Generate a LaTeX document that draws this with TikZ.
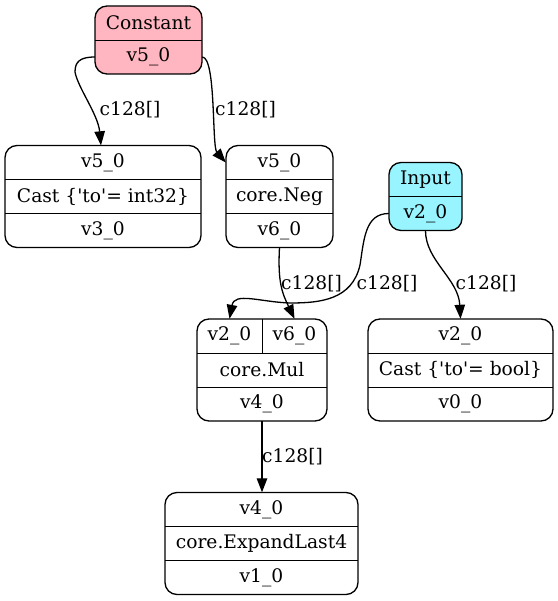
\documentclass[tikz,border=0pt]{standalone}
\usepackage{fontspec}
\setmainfont{DejaVu Serif}
\usepackage{tikz}
\usetikzlibrary{arrows.meta}
\definecolor{constpink}{HTML}{FFB6C1}
\definecolor{inputcyan}{HTML}{98F5FF}

\begin{document}
\begin{tikzpicture}[x=1bp, y=-1bp,
    every node/.style={font=\fontsize{18.67bp}{22bp}\selectfont},
    rec/.style={draw, line width=1.3bp, rounded corners=12bp, inner sep=0pt},
    cell/.style={inner sep=0pt, minimum height=34bp},
    sep/.style={line width=1.3bp},
    edge/.style={line width=1.3bp, -{Triangle[length=14bp,width=10.5bp]}},
    lbl/.style={anchor=west, inner sep=0pt}]
    \useasboundingbox (0,0) rectangle (558,601);

    \node[rec, fill=constpink, minimum width=107bp, minimum height=68bp] (constbox) at (148.5,40) {};
    \node[cell, minimum width=107bp] (cname) at (148.5,23) {Constant};
    \node[cell, minimum width=107bp] (cv5) at (148.5,57) {v5\_0};
    \draw[sep] (cname.south west) -- (cname.south east);

    \node[rec, minimum width=196bp, minimum height=102bp] (castabox) at (103,196.5) {};
    \node[cell, minimum width=196bp] (ca1) at (103,162.5) {v5\_0};
    \node[cell, minimum width=196bp] (ca2) at (103,196.5) {Cast \{\textquotesingle to\textquotesingle= int32\}};
    \node[cell, minimum width=196bp] (ca3) at (103,230.5) {v3\_0};
    \draw[sep] (ca1.south west) -- (ca1.south east);
    \draw[sep] (ca2.south west) -- (ca2.south east);

    \node[rec, minimum width=107bp, minimum height=102bp] (negbox) at (279.5,196.5) {};
    \node[cell, minimum width=107bp] (nv5) at (279.5,162.5) {v5\_0};
    \node[cell, minimum width=107bp] (nop) at (279.5,196.5) {core.Neg};
    \node[cell, minimum width=107bp] (nv6) at (279.5,230.5) {v6\_0};
    \draw[sep] (nv5.south west) -- (nv5.south east);
    \draw[sep] (nop.south west) -- (nop.south east);

    \node[rec, fill=inputcyan, minimum width=73bp, minimum height=68bp] (inbox) at (425.5,196.5) {};
    \node[cell, minimum width=73bp] (iname) at (425.5,179.5) {Input};
    \node[cell, minimum width=73bp] (in2) at (425.5,213.5) {v2\_0};
    \draw[sep] (iname.south west) -- (iname.south east);

    \node[rec, minimum width=130bp, minimum height=102bp] (mulbox) at (262,370) {};
    \node[cell, minimum width=65bp] (mv2) at (229.5,336) {v2\_0};
    \node[cell, minimum width=65bp] (mv6) at (294.5,336) {v6\_0};
    \node[cell, minimum width=130bp] (mop) at (262,370) {core.Mul};
    \node[cell, minimum width=130bp] (mv4) at (262,404) {v4\_0};
    \draw[sep] (mv2.north east) -- (mv2.south east);
    \draw[sep] (mv2.south west) -- (mv6.south east);
    \draw[sep] (mop.south west) -- (mop.south east);

    \node[rec, minimum width=185bp, minimum height=102bp] (castbbox) at (460.5,370) {};
    \node[cell, minimum width=185bp] (cb1) at (460.5,336) {v2\_0};
    \node[cell, minimum width=185bp] (cb2) at (460.5,370) {Cast \{\textquotesingle to\textquotesingle= bool\}};
    \node[cell, minimum width=185bp] (cb3) at (460.5,404) {v0\_0};
    \draw[sep] (cb1.south west) -- (cb1.south east);
    \draw[sep] (cb2.south west) -- (cb2.south east);

    \node[rec, minimum width=193bp, minimum height=102bp] (expbox) at (261.5,543.5) {};
    \node[cell, minimum width=193bp] (ev4) at (261.5,509.5) {v4\_0};
    \node[cell, minimum width=193bp] (eop) at (261.5,543.5) {core.ExpandLast4};
    \node[cell, minimum width=193bp] (ev1) at (261.5,577.5) {v1\_0};
    \draw[sep] (ev4.south west) -- (ev4.south east);
    \draw[sep] (eop.south west) -- (eop.south east);

    \draw[edge] (cv5.west) .. controls +(-15,0) and +(0,-10) .. (75,72)
        .. controls +(3,16) and +(-3,-31) .. ([xshift=-2bp]ca1.north);
    \draw[edge] (cv5.east) .. controls +(14,0) and +(-14,-16) .. (nv5.west);
    \draw[edge] (nv6.south) .. controls +(-2,35) and +(-12,-25) .. (mv6.north);
    \draw[edge] (in2.west) .. controls +(-24,0) and +(4,-25) .. (360,265)
        .. controls +(-8,35) and +(30,0) .. (290,303)
        .. controls +(-30,-1) and +(5,-27) .. (mv2.north);
    \draw[edge] (in2.south) .. controls +(0,30) and +(-2,-40) .. (cb1.north);
    \draw[edge] (mv4.south) -- (mv4.south |- ev4.north);

    \node[lbl] (l1) at (99.5,110) {c128[]};
    \node[lbl] (l2) at (215,110) {c128[]};
    \node[lbl] (l3) at (281,283.5) {c128[]};
    \node[lbl] (l4) at (356.5,283.5) {c128[]};
    \node[lbl] (l5) at (455.5,283.5) {c128[]};
    \node[lbl] (l6) at (262,457) {c128[]};
\end{tikzpicture}
\end{document}
